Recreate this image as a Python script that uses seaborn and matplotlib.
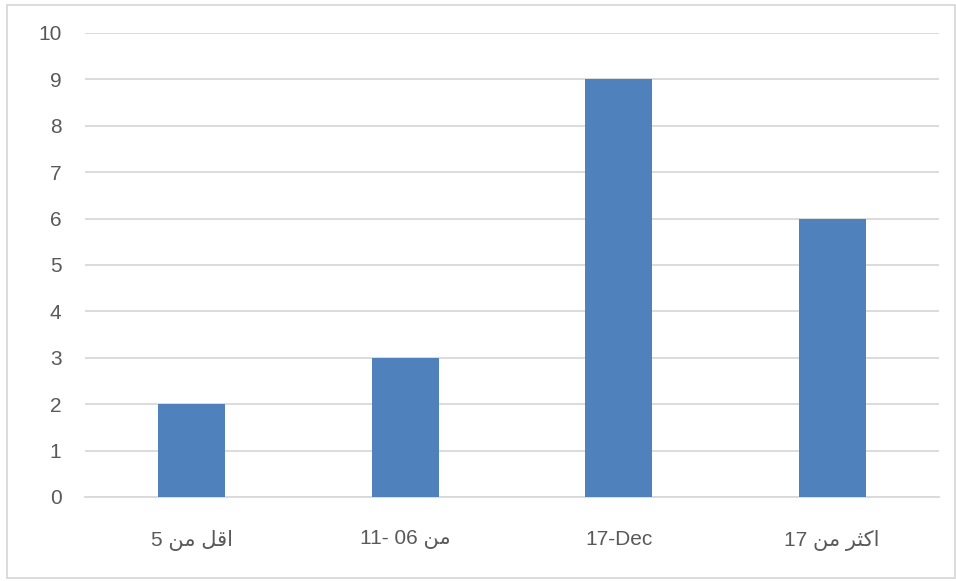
import matplotlib
matplotlib.use("Agg")
import matplotlib.pyplot as plt
import seaborn as sns
import pandas as pd
from matplotlib.patches import Rectangle

# Category labels written in visual (left-to-right) order with Arabic presentation forms,
# because matplotlib does not apply bidi reordering or letter joining itself.
categories = [
    "5 \uFEE6\uFEE3 \uFEDE\uFED7\uFE8D",          # اقل من 5
    "11- 06 \uFEE6\uFEE3",                         # من 06 -11
    "17-Dec",
    "17 \uFEE6\uFEE3 \uFEAE\uFE9C\uFEDB\uFE8D",   # اكثر من 17
]
values = [2, 3, 9, 6]
y_ticks = list(range(0, 11))

sns.set_theme(style="white")
plt.rcParams["font.family"] = ["Liberation Sans", "DejaVu Sans"]

df = pd.DataFrame({"category": categories, "count": values})

fig = plt.figure(figsize=(9.56, 5.81), dpi=100)
W, H = 956, 581
ax = fig.add_axes([85 / W, 1 - 497 / H, (939 - 85) / W, (497 - 33) / H])

sns.barplot(data=df, x="category", y="count", color="#4F81BD", saturation=1,
            width=0.315, linewidth=0, ax=ax, zorder=3)

ax.set_ylim(0, 10)
ax.set_yticks(y_ticks)
ax.set_xlim(-0.5, len(categories) - 0.5)
ax.yaxis.grid(True, color="#D9D9D9", linewidth=1.3, zorder=0)
ax.xaxis.grid(False)
ax.set_axisbelow(True)
for s in ["top", "right", "left"]:
    ax.spines[s].set_visible(False)
ax.spines["bottom"].set_color("#D9D9D9")
ax.spines["bottom"].set_linewidth(1.3)

ax.set_xlabel("")
ax.set_ylabel("")
ax.tick_params(axis="both", length=0, labelsize=15, labelcolor="#595959")
ax.tick_params(axis="y", pad=17)
ax.tick_params(axis="x", pad=24)

# Chart-area frame
fig.patches.append(Rectangle((7 / W, 3 / H), (955 - 7) / W, (576 - 3) / H,
                             transform=fig.transFigure, fill=False,
                             edgecolor="#D9D9D9", linewidth=1.3))

fig.savefig("out.png", dpi=100)
